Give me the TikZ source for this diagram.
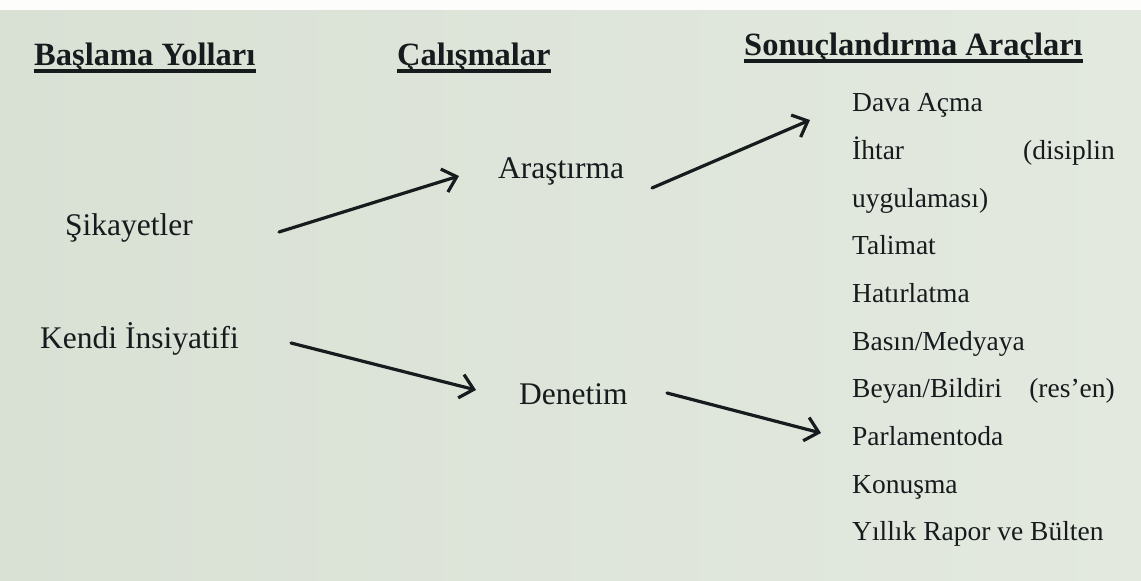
\documentclass[tikz,border=0pt]{standalone}
\usepackage{fontspec}
\setmainfont{Liberation Serif}
\usetikzlibrary{arrows.meta}
\definecolor{bgL}{HTML}{D9E0D4}
\definecolor{bgR}{HTML}{E3E9DF}
\definecolor{ink}{HTML}{161B1D}
\tikzset{
  head/.style={anchor=base west,inner sep=0pt,text=ink,font=\fontsize{32.5}{36}\selectfont\bfseries},
  mid/.style={anchor=base west,inner sep=0pt,text=ink,font=\fontsize{31.5}{36}\selectfont},
  item/.style={anchor=base west,inner sep=0pt,text=ink,font=\fontsize{27.5}{30}\selectfont},
  itemr/.style={item,anchor=base east},
  uline/.style={line width=3.2pt,draw=ink},
  flow/.style={line width=3.2pt,draw=ink,line cap=round,-{Straight Barb[length=13pt,width=24pt]}}
}
\begin{document}
\begin{tikzpicture}[x=1pt,y=-1pt]
\useasboundingbox (0,0) rectangle (1141,581);
\shade[left color=bgL,right color=bgR] (0,0) rectangle (1141,581);
\fill[white!94!bgL] (0,0) rectangle (1141,10);
% headings
\node[head] (h1) at (34,65) {Başlama Yolları};
\node[head] (h2) at (397,65) {Çalışmalar};
\node[head] (h3) at (744,55) {Sonuçlandırma Araçları};
\foreach \h in {h1,h2,h3}
  \draw[uline] ([yshift=-6pt]\h.base west) -- ([yshift=-6pt]\h.base east);
% left column
\node[mid] (sik) at (65,235) {Şikayetler};
\node[mid] (ken) at (40,348) {Kendi İnsiyatifi};
% middle column
\node[mid] (ara) at (498,178) {Araştırma};
\node[mid] (den) at (519,404) {Denetim};
% right column
\node[item] (r1) at (852,111) {Dava Açma};
\node[item] (r2) at (852,159) {İhtar};
\node[itemr] (r2b) at (1115,159) {(disiplin};
\node[item] (r3) at (852,207) {uygulaması)};
\node[item] (r4) at (852,254) {Talimat};
\node[item] (r5) at (852,302) {Hatırlatma};
\node[item] (r6) at (852,350) {Basın/Medyaya};
\node[item] (r7) at (852,397) {Beyan/Bildiri};
\node[itemr] (r7b) at (1115,397) {(res’en)};
\node[item] (r8) at (852,445) {Parlamentoda};
\node[item] (r9) at (852,493) {Konuşma};
\node[item] (r10) at (852,540) {Yıllık Rapor ve Bülten};
% connector ends
\coordinate (s1) at (279,232);
\coordinate (e1) at (459,176);
\coordinate (s2) at (291,343);
\coordinate (e2) at (476,390);
\coordinate (s3) at (652,188);
\coordinate (e3) at (810,120);
\coordinate (s4) at (667,393);
\coordinate (e4) at (821,433);
\draw[flow] (s1) -- (e1);
\draw[flow] (s2) -- (e2);
\draw[flow] (s3) -- (e3);
\draw[flow] (s4) -- (e4);
\end{tikzpicture}
\end{document}
